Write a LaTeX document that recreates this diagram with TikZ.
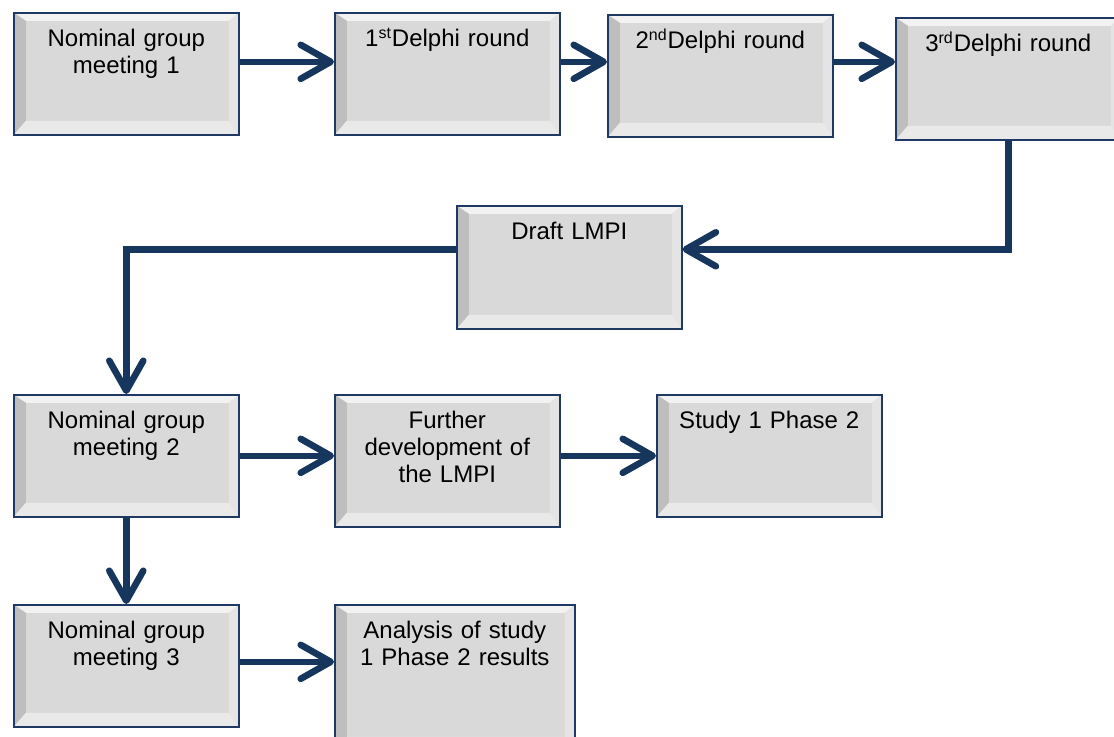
\documentclass[tikz,border=0pt]{standalone}
\usepackage{fontspec}
\setmainfont{Liberation Sans}
\usetikzlibrary{arrows.meta}

\definecolor{edgeblue}{RGB}{31,56,100}
\definecolor{flowblue}{RGB}{23,54,93}
\definecolor{facegray}{RGB}{217,217,217}
\definecolor{bevtop}{RGB}{242,242,242}
\definecolor{bevleft}{RGB}{190,190,190}
\definecolor{bevright}{RGB}{228,228,228}
\definecolor{bevbot}{RGB}{233,233,233}

% bevelled face of the boxes
\tikzset{bevel/.style={path picture={
    \coordinate (nw) at (path picture bounding box.north west);
    \coordinate (ne) at (path picture bounding box.north east);
    \coordinate (sw) at (path picture bounding box.south west);
    \coordinate (se) at (path picture bounding box.south east);
    \fill[bevtop] (nw) -- (ne) -- ([shift={(-5pt,-4pt)}]ne) -- ([shift={(6pt,-4pt)}]nw) -- cycle;
    \fill[bevleft] (nw) -- ([shift={(6pt,-4pt)}]nw) -- ([shift={(6pt,7pt)}]sw) -- (sw) -- cycle;
    \fill[bevright] (ne) -- ([shift={(-5pt,-4pt)}]ne) -- ([shift={(-5pt,7pt)}]se) -- (se) -- cycle;
    \fill[bevbot] (sw) -- ([shift={(6pt,7pt)}]sw) -- ([shift={(-5pt,7pt)}]se) -- (se) -- cycle;
}}}

\begin{document}
\begin{tikzpicture}[x=0.5pt, y=-0.5pt,
    stage/.style={draw=edgeblue, line width=0.8pt, fill=facegray, bevel, anchor=north west,
        align=center, inner xsep=4pt, inner ysep=0pt, text width=104.5pt,
        text height=17pt, text depth=44pt, font=\fontsize{12}{13.3}\selectfont},
    flow/.style={draw=flowblue, line width=3.3pt, -{Straight Barb[round, length=15pt, width=17pt]}}]
    \useasboundingbox (0,0) rectangle (1114,736);
    \clip (0,0) rectangle (1114,736);

    \node[stage] (N1) at (13,12) {Nominal group\\meeting 1};
    \node[stage] (D1) at (334,12) {1\textsuperscript{st}Delphi round};
    \node[stage] (D2) at (607,14) {2\textsuperscript{nd}Delphi round};
    \node[stage] (D3) at (895,17) {3\textsuperscript{rd}Delphi round};
    \node[stage, text depth=44.5pt] (Draft) at (456,205) {Draft LMPI};
    \node[stage] (N2) at (13,394) {Nominal group\\meeting 2};
    \node[stage, text depth=49pt] (Dev) at (334,394) {Further\\development of\\the LMPI};
    \node[stage] (S1P2) at (656,394) {Study 1 Phase 2};
    \node[stage] (N3) at (13,604) {Nominal group\\meeting 3};
    \node[stage, text width=112pt, text depth=56pt] (Res) at (334,604) {Analysis of study\\1 Phase 2 results};

    \draw[flow] ([yshift=6pt]N1.east) coordinate (a1) -- (a1 -| D1.west);
    \draw[flow] ([yshift=6pt]D1.east) coordinate (a2) -- (a2 -| D2.west);
    \draw[flow] ([yshift=7pt]D2.east) coordinate (a3) -- (a3 -| D3.west);
    \draw[flow] (D3.south) |- ([yshift=9pt]Draft.east);
    \draw[flow] ([yshift=9pt]Draft.west) -| (N2.north);
    \draw[flow] (N2.east) -- (N2.east -| Dev.west);
    \draw[flow] (S1P2.west -| Dev.east) -- (S1P2.west);
    \draw[flow] (N2.south) -- (N3.north);
    \draw[flow] ([yshift=2pt]N3.east) coordinate (a4) -- (a4 -| Res.west);
\end{tikzpicture}
\end{document}
